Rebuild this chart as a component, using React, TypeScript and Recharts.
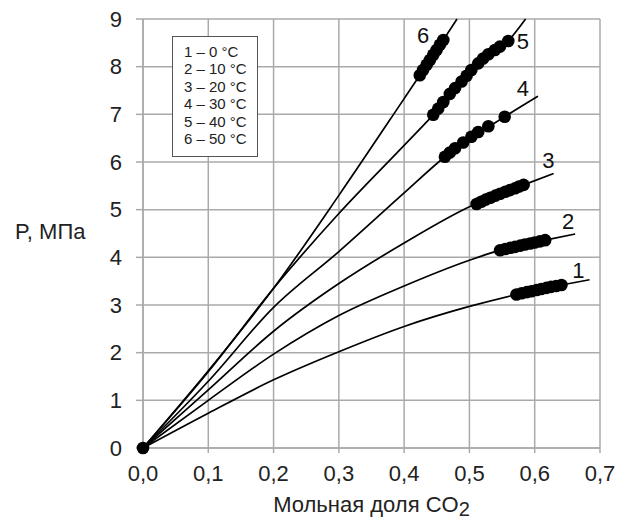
import React from 'react';
import { ComposedChart, Line, Scatter, XAxis, YAxis, CartesianGrid } from 'recharts';

const FONT = '"Liberation Sans", Arial, Helvetica, sans-serif';

const xTicks = [0, 0.1, 0.2, 0.3, 0.4, 0.5, 0.6, 0.7];
const yTicks = [0, 1, 2, 3, 4, 5, 6, 7, 8, 9];

// Curves (x = мольная доля CO2, p = P, МПа)
const curve1 = [
  { x: 0, p: 0 }, { x: 0.1, p: 0.73 }, { x: 0.2, p: 1.43 }, { x: 0.3, p: 2.02 },
  { x: 0.4, p: 2.55 }, { x: 0.5, p: 2.97 }, { x: 0.572, p: 3.22 }, { x: 0.641, p: 3.42 },
  { x: 0.684, p: 3.53 },
];
const curve2 = [
  { x: 0, p: 0 }, { x: 0.1, p: 1.0 }, { x: 0.2, p: 1.97 }, { x: 0.3, p: 2.78 },
  { x: 0.4, p: 3.4 }, { x: 0.5, p: 3.94 }, { x: 0.547, p: 4.15 }, { x: 0.616, p: 4.36 },
  { x: 0.662, p: 4.49 },
];
const curve3 = [
  { x: 0, p: 0 }, { x: 0.1, p: 1.22 }, { x: 0.2, p: 2.45 }, { x: 0.3, p: 3.45 },
  { x: 0.4, p: 4.3 }, { x: 0.5, p: 5.06 }, { x: 0.583, p: 5.52 }, { x: 0.629, p: 5.76 },
];
const curve4 = [
  { x: 0, p: 0 }, { x: 0.1, p: 1.4 }, { x: 0.2, p: 2.95 }, { x: 0.3, p: 4.12 },
  { x: 0.4, p: 5.35 }, { x: 0.4625, p: 6.11 }, { x: 0.554, p: 6.95 }, { x: 0.605, p: 7.38 },
];
const curve5 = [
  { x: 0, p: 0 }, { x: 0.1, p: 1.6 }, { x: 0.2, p: 3.35 }, { x: 0.3, p: 4.92 },
  { x: 0.4, p: 6.35 }, { x: 0.4446, p: 6.99 }, { x: 0.5135, p: 8.07 }, { x: 0.5595, p: 8.54 },
  { x: 0.586, p: 9.0 },
];
const curve6 = [
  { x: 0, p: 0 }, { x: 0.1, p: 1.62 }, { x: 0.2, p: 3.35 }, { x: 0.3, p: 5.3 },
  { x: 0.4, p: 7.33 }, { x: 0.424, p: 7.82 }, { x: 0.46, p: 8.56 }, { x: 0.481, p: 9.0 },
];

// Experimental points
const dots1 = [
  { x: 0.572, p: 3.22 }, { x: 0.58, p: 3.245 }, { x: 0.588, p: 3.27 }, { x: 0.595, p: 3.29 },
  { x: 0.603, p: 3.315 }, { x: 0.61, p: 3.335 }, { x: 0.618, p: 3.36 }, { x: 0.625, p: 3.38 },
  { x: 0.633, p: 3.4 }, { x: 0.641, p: 3.42 },
];
const dots2 = [
  { x: 0.547, p: 4.15 }, { x: 0.555, p: 4.175 }, { x: 0.563, p: 4.2 }, { x: 0.57, p: 4.22 },
  { x: 0.578, p: 4.245 }, { x: 0.585, p: 4.27 }, { x: 0.593, p: 4.29 }, { x: 0.6, p: 4.31 },
  { x: 0.608, p: 4.335 }, { x: 0.616, p: 4.36 },
];
const dots3 = [
  { x: 0.511, p: 5.12 }, { x: 0.518, p: 5.165 }, { x: 0.525, p: 5.21 }, { x: 0.532, p: 5.25 },
  { x: 0.54, p: 5.295 }, { x: 0.547, p: 5.335 }, { x: 0.555, p: 5.375 }, { x: 0.562, p: 5.41 },
  { x: 0.57, p: 5.45 }, { x: 0.576, p: 5.485 }, { x: 0.583, p: 5.52 },
];
const dots4 = [
  { x: 0.4625, p: 6.11 }, { x: 0.47, p: 6.2 }, { x: 0.478, p: 6.29 }, { x: 0.4905, p: 6.41 },
  { x: 0.503, p: 6.53 }, { x: 0.5135, p: 6.63 }, { x: 0.529, p: 6.75 }, { x: 0.554, p: 6.95 },
];
const dots5 = [
  { x: 0.4446, p: 6.99 }, { x: 0.4522, p: 7.12 }, { x: 0.46, p: 7.26 }, { x: 0.47, p: 7.43 },
  { x: 0.478, p: 7.55 }, { x: 0.488, p: 7.69 }, { x: 0.4957, p: 7.81 }, { x: 0.503, p: 7.93 },
  { x: 0.5135, p: 8.07 }, { x: 0.521, p: 8.17 }, { x: 0.529, p: 8.26 }, { x: 0.539, p: 8.35 },
  { x: 0.5467, p: 8.42 }, { x: 0.5595, p: 8.54 },
];
const dots6 = [
  { x: 0.424, p: 7.82 }, { x: 0.429, p: 7.93 }, { x: 0.4345, p: 8.04 }, { x: 0.4395, p: 8.14 },
  { x: 0.4446, p: 8.25 }, { x: 0.4497, p: 8.35 }, { x: 0.4548, p: 8.46 }, { x: 0.46, p: 8.56 },
];
const origin = [{ x: 0, p: 0 }];

const curveLabels = [
  { x: 0.667, p: 3.73, t: '1' },
  { x: 0.651, p: 4.75, t: '2' },
  { x: 0.621, p: 6.04, t: '3' },
  { x: 0.582, p: 7.55, t: '4' },
  { x: 0.582, p: 8.52, t: '5' },
  { x: 0.429, p: 8.66, t: '6' },
];

const legendRows = ['1 – 0 °C', '2 – 10 °C', '3 – 20 °C', '4 – 30 °C', '5 – 40 °C', '6 – 50 °C'];

const curves = [curve1, curve2, curve3, curve4, curve5, curve6];
const dotSets = [dots1, dots2, dots3, dots4, dots5, dots6];

const Dot = (props: any) => <circle cx={props.cx} cy={props.cy} r={6.3} fill="#000" />;
const LabelShape = (props: any) => (
  <text
    x={props.cx}
    y={props.cy}
    textAnchor="middle"
    dominantBaseline="central"
    fontSize={22}
    fontFamily={FONT}
    fill="#111"
  >
    {props.payload.t}
  </text>
);

const fmtX = (v: number) => v.toFixed(1).replace('.', ',');

export default function App() {
  return (
    <div style={{ position: 'absolute', left: 0, top: 0, width: 617, height: 522, background: '#fff', fontFamily: FONT }}>
      <ComposedChart width={617} height={522} margin={{ top: 19, right: 17, bottom: 34, left: 0 }}>
        <CartesianGrid stroke="#aaaaaa" strokeWidth={1.5} />
        <XAxis
          type="number"
          dataKey="x"
          domain={[0, 0.7]}
          ticks={xTicks}
          tickFormatter={fmtX}
          height={40}
          tickSize={5}
          tickMargin={12}
          axisLine={{ stroke: '#aaaaaa', strokeWidth: 1.5 }}
          tickLine={{ stroke: '#aaaaaa', strokeWidth: 1.5 }}
          tick={{ fontSize: 22, fill: '#222', fontFamily: FONT }}
          allowDuplicatedCategory={false}
        />
        <YAxis
          type="number"
          dataKey="p"
          domain={[0, 9]}
          ticks={yTicks}
          width={143}
          tickSize={7}
          tickMargin={14}
          axisLine={{ stroke: '#aaaaaa', strokeWidth: 1.5 }}
          tickLine={{ stroke: '#aaaaaa', strokeWidth: 1.5 }}
          tick={{ fontSize: 22, fill: '#222', fontFamily: FONT }}
        />
        {curves.map((c, i) => (
          <Line
            key={'c' + i}
            data={c}
            dataKey="p"
            type="monotone"
            stroke="#000"
            strokeWidth={1.7}
            dot={false}
            activeDot={false}
            isAnimationActive={false}
          />
        ))}
        {dotSets.map((d, i) => (
          <Scatter key={'d' + i} data={d} dataKey="p" shape={Dot} isAnimationActive={false} />
        ))}
        <Scatter data={origin} dataKey="p" shape={Dot} isAnimationActive={false} />
        <Scatter data={curveLabels} dataKey="p" shape={LabelShape} isAnimationActive={false} />
      </ComposedChart>

      <div
        style={{
          position: 'absolute',
          left: 172,
          top: 36,
          width: 86,
          height: 121,
          boxSizing: 'border-box',
          border: '1.5px solid #555',
          background: '#fff',
          paddingTop: 6,
          paddingLeft: 11,
          fontSize: 15,
          lineHeight: '17.4px',
          color: '#222',
          whiteSpace: 'nowrap',
        }}
      >
        {legendRows.map((r) => (
          <div key={r}>{r}</div>
        ))}
      </div>

      <div
        style={{
          position: 'absolute',
          left: 0,
          width: 110,
          top: 218,
          fontSize: 22,
          lineHeight: '28px',
          color: '#222',
          paddingLeft: 15,
          whiteSpace: 'nowrap',
        }}
      >
        P, МПа
      </div>

      <div
        style={{
          position: 'absolute',
          left: 143,
          width: 457,
          top: 492,
          textAlign: 'center',
          fontSize: 22,
          lineHeight: '26px',
          color: '#222',
          whiteSpace: 'nowrap',
        }}
      >
        Мольная доля CO<span style={{ fontSize: 20, position: 'relative', top: 4 }}>2</span>
      </div>
    </div>
  );
}
